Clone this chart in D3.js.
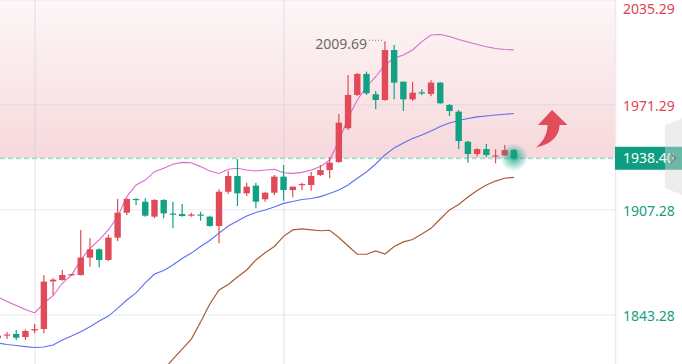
<!DOCTYPE html>
<html>
<head>
<meta charset="utf-8">
<script src="https://cdn.jsdelivr.net/npm/d3@7/dist/d3.min.js"></script>
<style>
html, body { margin: 0; padding: 0; background: #fff; overflow: hidden; }
svg { display: block; font-family: "Noto Sans", sans-serif; }
</style>
</head>
<body>
<div id="graf"></div>
<script>
// datos de las velas (índice 0 = vela cortada en el borde izquierdo)
const openP  = [1828.8,1830.3,1831.3,1829.4,1833.5,1834.3,1863.3,1864.2,1867.0,1867.2,1877.8,1882.9,1876.4,1890.0,1905.2,1913.6,1911.9,1902.8,1913.0,1904.7,1904.4,1903.5,1904.1,1902.8,1897.1,1918.0,1927.6,1917.0,1921.7,1913.4,1917.4,1927.2,1919.0,1922.1,1922.1,1928.2,1931.2,1936.1,1956.7,1977.0,1989.8,1977.4,1973.9,2004.4,1985.1,1974.3,1978.6,1977.6,1984.5,1970.9,1966.8,1948.5,1941.0,1944.0,1939.5,1940.1,1943.4];
const highP  = [1831.3,1832.5,1833.7,1834.1,1837.4,1867.2,1865.2,1870.3,1868.0,1894.7,1889.6,1883.5,1892.0,1913.6,1914.0,1914.0,1914.0,1913.4,1913.4,1911.9,1910.5,1905.2,1905.8,1903.4,1919.5,1930.8,1937.9,1923.5,1923.5,1918.0,1928.2,1934.3,1921.1,1923.5,1930.2,1934.3,1939.0,1965.4,1989.2,1990.4,1991.2,1979.4,2009.69,2007.4,1985.1,1985.1,1980.4,1985.9,1984.9,1971.5,1967.8,1949.1,1944.5,1947.1,1943.9,1946.5,1944.0];
const lowP   = [1827.6,1828.2,1827.6,1827.6,1831.7,1831.7,1855.0,1863.8,1866.9,1867.0,1872.3,1871.9,1875.8,1888.0,1903.8,1909.9,1902.8,1901.8,1901.8,1895.7,1902.8,1902.8,1900.3,1896.7,1886.6,1916.6,1909.3,1915.4,1907.9,1911.9,1916.0,1912.5,1914.6,1919.0,1918.6,1927.6,1926.2,1935.7,1955.6,1976.4,1977.0,1968.2,1973.5,1974.3,1967.2,1973.3,1977.0,1976.2,1971.7,1964.2,1944.0,1935.7,1939.4,1939.0,1935.3,1939.8,1938.1];
const closeP = [1830.3,1831.0,1829.0,1833.1,1834.3,1863.2,1864.4,1867.2,1867.8,1877.9,1882.9,1876.4,1890.0,1905.2,1913.6,1913.1,1903.4,1913.0,1904.8,1904.1,1903.2,1904.1,1903.5,1897.1,1918.0,1927.6,1917.0,1921.1,1911.9,1917.4,1927.2,1919.0,1921.1,1922.7,1927.6,1931.2,1935.7,1960.1,1977.0,1989.8,1978.0,1973.9,2004.4,1984.5,1974.3,1978.4,1978.0,1984.5,1971.9,1967.2,1948.9,1941.0,1944.0,1940.4,1940.1,1943.4,1938.40];

// bandas de Bollinger
const upperB = [1853.8,1851.1,1848.6,1846.2,1844.1,1850.0,1854.6,1862.2,1867.2,1876.4,1883.5,1888.6,1894.7,1902.8,1915.0,1922.1,1925.1,1930.2,1932.3,1934.7,1935.9,1935.7,1933.3,1930.6,1929.1,1931.7,1932.3,1931.2,1930.6,1931.2,1931.7,1929.6,1929.2,1929.8,1931.2,1933.3,1937.3,1948.9,1962.9,1973.9,1982.0,1988.1,1995.3,1999.3,2001.3,2004.4,2009.5,2013.5,2013.8,2012.6,2010.8,2009.3,2007.7,2006.4,2005.3,2004.7,2004.4];
const midB   = [1825.8,1824.9,1824.3,1823.6,1823.0,1823.3,1824.6,1827.6,1830.0,1832.7,1835.7,1839.2,1842.2,1846.9,1852.0,1856.3,1862.4,1867.8,1870.0,1873.3,1877.3,1880.6,1884.6,1888.3,1892.8,1897.1,1900.2,1903.2,1905.3,1906.9,1908.7,1910.9,1912.0,1913.3,1913.9,1915.0,1916.9,1919.1,1922.1,1926.2,1930.0,1934.9,1940.4,1944.7,1947.7,1950.4,1952.6,1955.0,1957.8,1959.9,1961.4,1962.6,1963.6,1964.2,1964.8,1965.2,1965.7];
const lowerB = [null,null,null,null,null,null,null,null,null,null,null,null,null,null,null,null,1799.6,1802.6,1809.3,1816.0,1822.1,1828.2,1838.6,1849.6,1858.1,1861.4,1866.0,1870.3,1876.4,1880.8,1884.6,1890.8,1894.7,1895.3,1894.8,1894.2,1894.5,1890.1,1884.9,1879.9,1879.9,1881.9,1880.0,1884.6,1887.4,1888.9,1892.2,1895.7,1901.4,1906.9,1910.2,1914.8,1918.7,1922.1,1924.5,1926.2,1926.8];

// etiquetas del eje de precios y precio actual
const priceTicks = [2035.29, 1971.29, 1907.28, 1843.28];
const lastPrice = 1938.40;
const maxLabel = 2009.69;
const vGridIdx = [4, 31];

const anchototal = 682, altototal = 364;
const anchografica = 615;

const data = openP.map((o, i) => ({ i: i, o: o, h: highP[i], l: lowP[i], c: closeP[i] }));

// escalas
const x = d3.scaleLinear().domain([1, 56]).range([7, 514]);
const y = d3.scaleLinear().domain([1843.28, 1971.29]).range([314.3, 104.3]);

const rojo = "#e14a59", verde = "#12a283";

const svg = d3.select("#graf").append("svg")
    .attr("width", anchototal)
    .attr("height", altototal);

const defs = svg.append("defs");
const grad = defs.append("linearGradient").attr("id", "fondoRosa")
    .attr("x1", 0).attr("y1", 0).attr("x2", 0).attr("y2", 1);
grad.append("stop").attr("offset", "0%").attr("stop-color", "#fdf7f7");
grad.append("stop").attr("offset", "100%").attr("stop-color", "#f7d8dc");

const glow = defs.append("radialGradient").attr("id", "brillo");
glow.append("stop").attr("offset", "0%").attr("stop-color", verde).attr("stop-opacity", 0.95);
glow.append("stop").attr("offset", "35%").attr("stop-color", verde).attr("stop-opacity", 0.55);
glow.append("stop").attr("offset", "100%").attr("stop-color", verde).attr("stop-opacity", 0);

defs.append("clipPath").attr("id", "recorte")
    .append("rect").attr("x", 0).attr("y", 0).attr("width", anchografica).attr("height", altototal);

// zona rosa por encima del precio actual
svg.append("rect")
    .attr("x", 0).attr("y", 0)
    .attr("width", anchografica).attr("height", y(lastPrice))
    .attr("fill", "url(#fondoRosa)");

// rejilla
const gridH = svg.append("g")
    .call(d3.axisLeft(y).tickValues(priceTicks).tickSize(-anchografica).tickFormat(""));
gridH.select(".domain").remove();
gridH.selectAll("line").attr("stroke", "rgba(190,195,220,0.3)").attr("stroke-width", 1.2);

const gridV = svg.append("g")
    .attr("transform", `translate(0, ${altototal})`)
    .call(d3.axisBottom(x).tickValues(vGridIdx).tickSize(-altototal).tickFormat(""));
gridV.select(".domain").remove();
gridV.selectAll("line").attr("stroke", "rgba(190,195,220,0.3)").attr("stroke-width", 1.5);

// línea de precio actual
svg.append("line")
    .attr("x1", 0).attr("x2", anchografica)
    .attr("y1", y(lastPrice)).attr("y2", y(lastPrice))
    .attr("stroke", "#a6ddd0").attr("stroke-width", 2)
    .attr("stroke-dasharray", "5,3");

const g = svg.append("g").attr("clip-path", "url(#recorte)");

// bandas
const linea = (arr) => d3.line()
    .defined((d) => d != null)
    .x((d, i) => x(i))
    .y((d) => y(d))(arr);

g.append("path").attr("d", linea(lowerB)).attr("fill", "none").attr("stroke", "#a85c34").attr("stroke-width", 1.2);
g.append("path").attr("d", linea(midB)).attr("fill", "none").attr("stroke", "#5c6ff2").attr("stroke-width", 1.1);
g.append("path").attr("d", linea(upperB)).attr("fill", "none").attr("stroke", "#d96ad2").attr("stroke-width", 1.1);

// velas
const velas = g.selectAll(".vela").data(data).enter().append("g").attr("class", "vela");
velas.append("line")
    .attr("x1", (d) => x(d.i)).attr("x2", (d) => x(d.i))
    .attr("y1", (d) => y(d.h)).attr("y2", (d) => y(d.l))
    .attr("stroke", (d) => d.c >= d.o ? rojo : verde)
    .attr("stroke-width", 1.2);
velas.append("rect")
    .attr("x", (d) => x(d.i) - 3.2)
    .attr("width", 6.4)
    .attr("y", (d) => y(Math.max(d.o, d.c)))
    .attr("height", (d) => Math.max(1.2, Math.abs(y(d.o) - y(d.c))))
    .attr("fill", (d) => d.c >= d.o ? rojo : verde);

// brillo en la última vela
g.append("circle")
    .attr("cx", x(56)).attr("cy", y(lastPrice) - 1)
    .attr("r", 14)
    .attr("fill", "url(#brillo)");

// máximo marcado
const iMax = highP.indexOf(maxLabel);
svg.append("text")
    .attr("x", x(iMax) - 18).attr("y", y(maxLabel) + 8)
    .attr("text-anchor", "end")
    .attr("font-size", 14)
    .attr("fill", "#6b6b6b")
    .text(d3.format(".2f")(maxLabel));
svg.append("line")
    .attr("x1", x(iMax) - 16).attr("x2", x(iMax) - 1)
    .attr("y1", y(maxLabel) - 1).attr("y2", y(maxLabel) - 1)
    .attr("stroke", "#777").attr("stroke-width", 1)
    .attr("stroke-dasharray", "1,2");

// flecha roja
svg.append("path")
    .attr("d", "M552,110 L567.5,125 L559.5,125 C559.5,136 551,144.5 536,147.5 C544,141 547.5,133 547.5,125 L538,125 Z")
    .attr("fill", "#e04d5b");

// eje de precios
svg.append("rect")
    .attr("x", anchografica).attr("y", 0)
    .attr("width", anchototal - anchografica).attr("height", altototal)
    .attr("fill", "#fff");
svg.append("line")
    .attr("x1", anchografica + 0.5).attr("x2", anchografica + 0.5)
    .attr("y1", 0).attr("y2", altototal)
    .attr("stroke", "#ebebf1").attr("stroke-width", 1.5);

const ejeY = svg.append("g")
    .attr("transform", `translate(${anchografica}, 0)`)
    .call(d3.axisRight(y).tickValues(priceTicks).tickSize(0).tickPadding(8).tickFormat(d3.format(".2f")));
ejeY.select(".domain").remove();
ejeY.selectAll(".tick")
    .attr("transform", (d) => `translate(0, ${Math.max(10, y(d) + 2.5)})`);
ejeY.selectAll("text")
    .attr("font-size", 14)
    .attr("font-family", "Noto Sans, sans-serif")
    .attr("fill", (d) => d > lastPrice ? "#de4252" : "#13a07f");

// etiqueta del precio actual
svg.append("rect")
    .attr("x", anchografica).attr("y", y(lastPrice) - 11.5)
    .attr("width", anchototal - anchografica).attr("height", 23)
    .attr("fill", "#0f9e82");
svg.append("text")
    .attr("x", anchografica + 8).attr("y", y(lastPrice))
    .attr("dy", "0.35em")
    .attr("font-size", 14)
    .attr("fill", "#fff")
    .text(d3.format(".2f")(lastPrice));

// pestaña gris lateral
svg.append("path")
    .attr("d", "M682,118 L665,125.5 L665,188 L682,195 Z")
    .attr("fill", "rgba(215,215,215,0.45)");
svg.append("path")
    .attr("d", `M671,${y(lastPrice) - 5} L675.5,${y(lastPrice)} L671,${y(lastPrice) + 5}`)
    .attr("fill", "none").attr("stroke", "#7a7a7a").attr("stroke-width", 1.4);
</script>
</body>
</html>
